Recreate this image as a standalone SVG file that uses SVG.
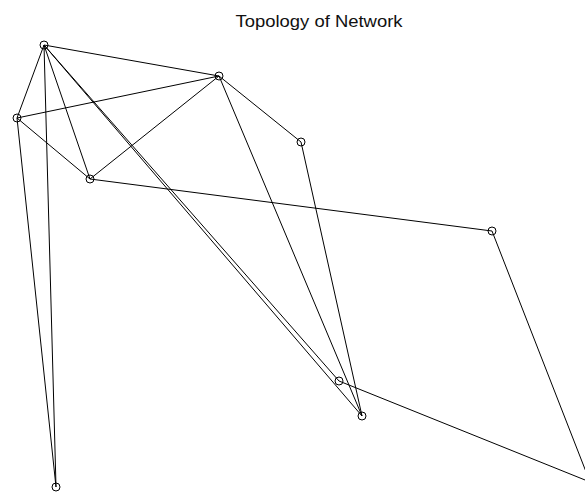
<svg xmlns="http://www.w3.org/2000/svg" width="585" height="493" viewBox="0 0 585 493">
<style>
.e{stroke:#000;stroke-width:1;fill:none}
.n{stroke:#000;stroke-width:1;fill:none}
.t{font-family:"Liberation Sans",Arial,sans-serif;font-size:17px;fill:#111}
</style>
<rect width="585" height="493" fill="#fff"/>
<text class="t" x="319" y="27" text-anchor="middle" textLength="167" lengthAdjust="spacingAndGlyphs">Topology of Network</text>
<g id="connectors">
<line class="e" x1="44" y1="45" x2="219" y2="76"/>
<line class="e" x1="44" y1="45" x2="17" y2="118"/>
<line class="e" x1="44" y1="45" x2="90" y2="179"/>
<line class="e" x1="44" y1="45" x2="56" y2="487"/>
<line class="e" x1="44" y1="45" x2="339" y2="381"/>
<line class="e" x1="44" y1="45" x2="362" y2="416"/>
<line class="e" x1="17" y1="118" x2="219" y2="76"/>
<line class="e" x1="17" y1="118" x2="90" y2="179"/>
<line class="e" x1="17" y1="118" x2="56" y2="487"/>
<line class="e" x1="90" y1="179" x2="219" y2="76"/>
<line class="e" x1="90" y1="179" x2="492" y2="231"/>
<line class="e" x1="219" y1="76" x2="301" y2="142"/>
<line class="e" x1="219" y1="76" x2="362" y2="416"/>
<line class="e" x1="301" y1="142" x2="362" y2="416"/>
<line class="e" x1="492" y1="231" x2="590" y2="482"/>
<line class="e" x1="339" y1="381" x2="590" y2="482"/>
</g>
<g id="nA"><circle class="n" cx="44" cy="45" r="4"/></g>
<g id="nB"><circle class="n" cx="219" cy="76" r="4"/></g>
<g id="nC"><circle class="n" cx="17" cy="118" r="4"/></g>
<g id="nD"><circle class="n" cx="90" cy="179" r="4"/></g>
<g id="nE"><circle class="n" cx="301" cy="142" r="4"/></g>
<g id="nF"><circle class="n" cx="492" cy="231" r="4"/></g>
<g id="nG"><circle class="n" cx="339" cy="381" r="4"/></g>
<g id="nH"><circle class="n" cx="362" cy="416" r="4"/></g>
<g id="nI"><circle class="n" cx="56" cy="487" r="4"/></g>
<g id="nJ"><circle class="n" cx="590" cy="482" r="4"/></g>
</svg>
